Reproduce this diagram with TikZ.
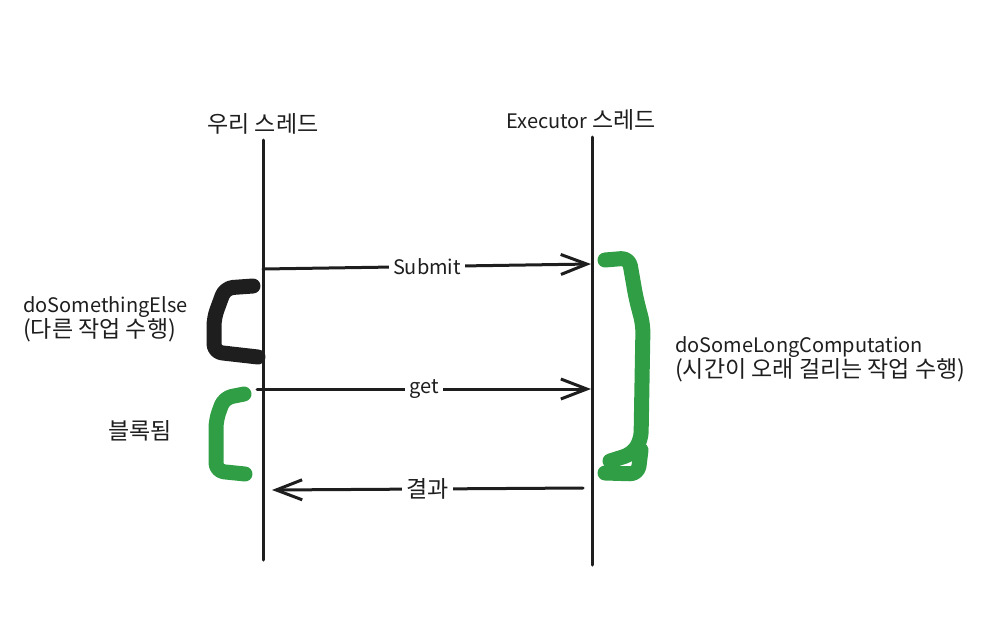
\documentclass[tikz,border=0pt]{standalone}
\usepackage{fontspec}
\setmainfont{Noto Sans CJK KR}
\usetikzlibrary{arrows.meta}
\definecolor{pen}{HTML}{1E1E1E}
\definecolor{leaf}{HTML}{2F9E44}
\newcommand{\kr}[1]{{\fontsize{23}{25}\selectfont #1}}

\begin{document}
\begin{tikzpicture}[x=1pt,y=-1pt,>={Straight Barb[length=26pt,width=20pt]},
    font=\fontsize{20}{25}\selectfont, line join=round, line cap=round,
    life/.style={pen, line width=3pt},
    msg/.style={pen, line width=3pt, ->},
    lbl/.style={fill=white, text=pen, inner sep=4pt},
    note/.style={text=pen, anchor=west, align=left, inner sep=0pt},
    bracket/.style={line width=15pt, rounded corners=8pt}]
    \useasboundingbox (0,0) rectangle (1003,642);

    % Lebenslinien
    \coordinate (ourTop) at (263,140); \coordinate (ourBot) at (263,560);
    \coordinate (execTop) at (592,137); \coordinate (execBot) at (592,565);
    \draw[life] (ourTop)--(ourBot);
    \draw[life] (execTop)--(execBot);
    \node[text=pen] (ourLbl) at (263,124) {\kr{우리 스레드}};
    \node[text=pen] (execLbl) at (581,120) {Executor \kr{스레드}};

    % Nachrichten
    \coordinate (subA) at (263,269); \coordinate (subB) at (591,264);
    \coordinate (getA) at (257,389); \coordinate (getB) at (591,389);
    \coordinate (resA) at (583,488); \coordinate (resB) at (272,490);
    \draw[msg] (subA)--node[lbl]{Submit}(subB);
    \draw[msg] (getA)--node[lbl]{get}(getB);
    \draw[msg] (resA)--node[lbl]{\kr{결과}}(resB);

    % Klammern
    \draw[bracket, pen] (253,286)--(225,288)--(214,318)--(214,352)--(258,357);
    \draw[bracket, leaf] (244,394)--(224,398)--(216,420)--(216,471)--(245,474);
    \draw[bracket, leaf] (605,260)--(629,258)--(636,298)--(643,325)--(641,440)--(632,454)--(610,461);
    \draw[bracket, leaf] (605,473)--(638,474)--(641,450);

    \node[note] (elseLbl) at (23,319) {doSomethingElse\\\kr{(다른 작업 수행)}};
    \node[text=pen] (blockLbl) at (140,431) {\kr{블록됨}};
    \node[note] (longLbl) at (675,359) {doSomeLongComputation\\\kr{(시간이 오래 걸리는 작업 수행)}};
\end{tikzpicture}
\end{document}
